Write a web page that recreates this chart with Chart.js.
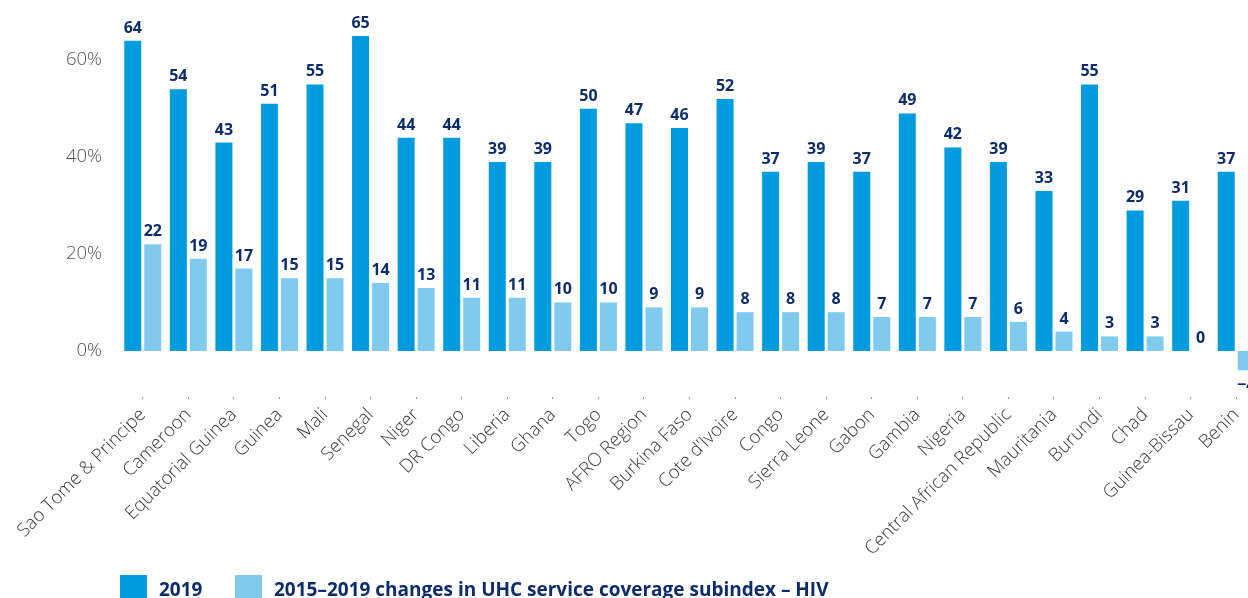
<!DOCTYPE html>
<html>
<head>
<meta charset="utf-8">
<script src="https://cdn.jsdelivr.net/npm/chart.js@4.4.1/dist/chart.umd.min.js"></script>
<style>
  html, body { margin: 0; padding: 0; background: #fff; overflow: hidden; }
  #wrap { position: relative; width: 1260px; height: 598px; }
  #legend { position: absolute; left: 120px; top: 575px; font-family: "Open Sans", sans-serif; font-weight: 700; font-size: 19px; color: #0d2c6c; white-space: nowrap; }
  .box { position: absolute; top: 0; width: 27px; height: 27px; }
  .txt { position: absolute; top: 1px; line-height: 27px; }
</style>
</head>
<body>
<div id="wrap">
  <canvas id="c" width="1260" height="598"></canvas>
  <div id="legend"></div>
</div>
<script>
const categories = ["Sao Tome & Principe","Cameroon","Equatorial Guinea","Guinea","Mali","Senegal","Niger","DR Congo","Liberia","Ghana","Togo","AFRO Region","Burkina Faso","Cote d'Ivoire","Congo","Sierra Leone","Gabon","Gambia","Nigeria","Central African Republic","Mauritania","Burundi","Chad","Guinea-Bissau","Benin"];
const values2019 = [64,54,43,51,55,65,44,44,39,39,50,47,46,52,37,39,37,49,42,39,33,55,29,31,37];
const changes2015to2019 = [22,19,17,15,15,14,13,11,11,10,10,9,9,8,8,8,7,7,7,6,4,3,3,0,-4];
const seriesNames = ["2019", "2015\u20132019 changes in UHC service coverage subindex \u2013 HIV"];
const yTicks = [0, 20, 40, 60];

const DARK = "#009ade";
const LIGHT = "#80caed";
const NAVY = "#0d2c6c";

const valueLabels = {
  id: "valueLabels",
  afterDatasetsDraw(chart) {
    const ctx = chart.ctx;
    ctx.save();
    ctx.font = "700 16px 'Open Sans', sans-serif";
    ctx.fillStyle = NAVY;
    ctx.textAlign = "center";
    chart.data.datasets.forEach((ds, di) => {
      const meta = chart.getDatasetMeta(di);
      meta.data.forEach((bar, i) => {
        const v = ds.data[i];
        if (v < 0) {
          ctx.textBaseline = "top";
          ctx.fillText("\u2212" + Math.abs(v), bar.x, bar.y + 7);
        } else {
          ctx.textBaseline = "alphabetic";
          ctx.fillText(String(v), bar.x, bar.y - 8);
        }
      });
    });
    ctx.restore();
  }
};

new Chart(document.getElementById("c"), {
  type: "bar",
  data: {
    labels: categories,
    datasets: [
      { label: seriesNames[0], data: values2019, backgroundColor: DARK },
      { label: seriesNames[1], data: changes2015to2019, backgroundColor: LIGHT }
    ]
  },
  options: {
    responsive: false,
    animation: false,
    devicePixelRatio: 1,
    layout: { padding: { top: 2, right: 1, left: 0, bottom: 0 } },
    datasets: { bar: { categoryPercentage: 0.8776, barPercentage: 0.85 } },
    plugins: { legend: { display: false }, tooltip: { enabled: false } },
    scales: {
      x: {
        grid: { display: true, offset: false, drawOnChartArea: false, color: "#999", tickLength: 2, lineWidth: 1 },
        border: { display: false },
        ticks: {
          minRotation: 45, maxRotation: 45, autoSkip: false, padding: 5,
          color: "#3c3c3c", font: { family: "'Open Sans', sans-serif", size: 18.5, weight: 300 }
        },
        afterFit(scale) { scale.height = 201; scale.paddingLeft = 0; scale.paddingRight = 0; }
      },
      y: {
        min: -9.5, max: 72,
        grid: { display: false },
        border: { display: false },
        ticks: {
          padding: 10, color: "#555",
          font: { family: "'Open Sans', sans-serif", size: 18.5, weight: 300 },
          callback: (v) => v + "%"
        },
        afterBuildTicks(scale) { scale.ticks = yTicks.map(v => ({ value: v })); },
        afterFit(scale) { scale.width = 120; scale.paddingTop = 0; scale.paddingBottom = 0; }
      }
    }
  },
  plugins: [valueLabels]
});

const legend = document.getElementById("legend");
const legendPos = [0, 115];
const textPos = [39, 154];
[DARK, LIGHT].forEach((col, i) => {
  const b = document.createElement("div");
  b.className = "box"; b.style.left = legendPos[i] + "px"; b.style.background = col;
  legend.appendChild(b);
  const t = document.createElement("div");
  t.className = "txt"; t.style.left = textPos[i] + "px"; t.textContent = seriesNames[i];
  legend.appendChild(t);
});
</script>
</body>
</html>
